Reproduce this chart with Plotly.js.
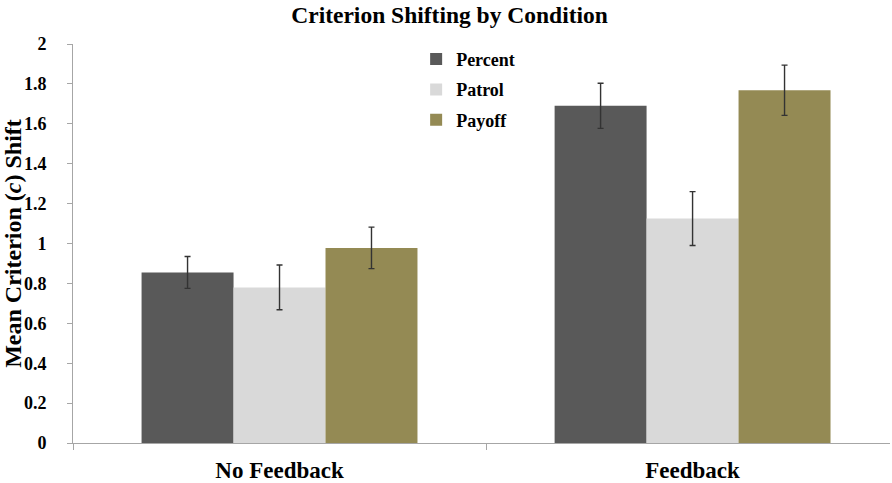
<!DOCTYPE html>
<html>
<head>
<meta charset="utf-8">
<script src="https://cdn.plot.ly/plotly-3.0.1.min.js"></script>
<style>
  html, body { margin: 0; padding: 0; background: #fff; }
  #chart { width: 892px; height: 483px; }
</style>
</head>
<body>
<div id="chart"></div>
<script>
// groups on the x axis
var conditions = ["No Feedback", "Feedback"];

// mean criterion shift and error
var percentMean = [0.855, 1.69];
var percentErr  = [0.08, 0.113];
var patrolMean  = [0.78, 1.125];
var patrolErr   = [0.112, 0.135];
var payoffMean  = [0.978, 1.768];
var payoffErr   = [0.104, 0.126];

var seriesNames  = ["Percent", "Patrol", "Payoff"];
var seriesColors = ["#595959", "#d9d9d9", "#948a54"];

var serif = "Liberation Serif, Times New Roman, serif";

function makeTrace(k, yvals, errs) {
  return {
    type: "bar",
    name: "<b>" + seriesNames[k] + "</b>",
    legendgroup: "g" + k,
    x: conditions,
    y: yvals,
    marker: { color: seriesColors[k], line: { width: 0 } },
    error_y: { type: "data", array: errs, visible: true, color: "#333333", thickness: 1.4, width: 3 },
    hoverinfo: "y+name"
  };
}

var data = [
  makeTrace(0, percentMean, percentErr),
  makeTrace(1, patrolMean, patrolErr),
  makeTrace(2, payoffMean, payoffErr)
];

var layout = {
  width: 892, height: 483,
  margin: { l: 73, r: 2, t: 44, b: 40, pad: 0 },
  paper_bgcolor: "#ffffff", plot_bgcolor: "#ffffff",
  barmode: "group",
  bargap: 0.332, bargroupgap: 0,
  font: { family: serif, color: "#000000" },
  title: {
    text: "<b>Criterion Shifting by Condition</b>",
    font: { family: serif, size: 23.5, color: "#000" },
    xref: "container", x: 0.504, xanchor: "center",
    yref: "container", y: 0.97, yanchor: "middle"
  },
  showlegend: true,
  legend: {
    x: 0.42, xanchor: "left", y: 1.008, yanchor: "top",
    font: { family: serif, size: 18, color: "#000" },
    tracegroupgap: 4, traceorder: "grouped",
    bgcolor: "rgba(0,0,0,0)", itemwidth: 30
  },
  xaxis: {
    type: "category",
    range: [-0.5, 1.478],
    showline: true, linecolor: "#a6a6a6", linewidth: 1,
    ticks: "outside", tickson: "boundaries", ticklen: 6, tickcolor: "#a6a6a6",
    tickfont: { family: serif, size: 23, color: "#000" },
    ticklabelstandoff: 6,
    tickprefix: "<b>", ticksuffix: "</b>",
    showgrid: false, zeroline: false
  },
  yaxis: {
    range: [0, 2], dtick: 0.2, tick0: 0,
    showline: true, linecolor: "#a6a6a6", linewidth: 1,
    ticks: "outside", ticklen: 5, tickcolor: "#a6a6a6",
    tickfont: { family: serif, size: 18, color: "#000" },
    ticklabelstandoff: 17,
    tickprefix: "<b>", ticksuffix: "</b>",
    showgrid: false, zeroline: false,
    title: {
      text: "<b>Mean Criterion (<i>c</i>) Shift</b>",
      font: { family: serif, size: 24, color: "#000" },
      standoff: 0
    }
  }
};

Plotly.newPlot("chart", data, layout, { displayModeBar: false, staticPlot: true });
</script>
</body>
</html>
